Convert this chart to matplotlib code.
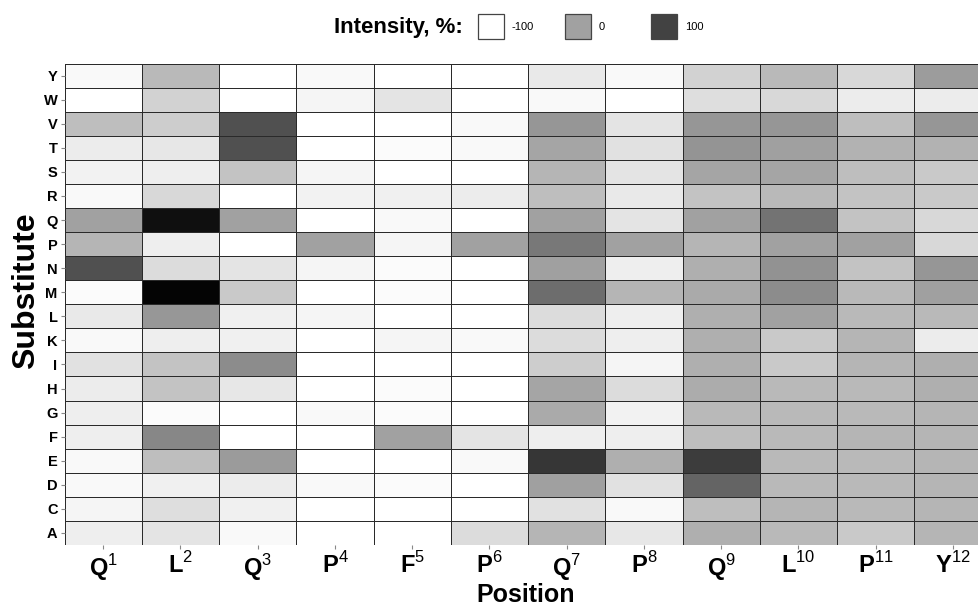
import numpy as np
import matplotlib
matplotlib.use('Agg')
import matplotlib.pyplot as plt
from matplotlib.colors import LinearSegmentedColormap, Normalize
from matplotlib.patches import Rectangle

plt.rcParams['font.family'] = 'Liberation Sans'
plt.rcParams['mathtext.fontset'] = 'custom'
plt.rcParams['mathtext.rm'] = 'Liberation Sans'
plt.rcParams['mathtext.bf'] = 'Liberation Sans:bold'

# peptide positions (x) and substitutes (y, top to bottom)
residues = ['Q', 'L', 'Q', 'P', 'F', 'P', 'Q', 'P', 'Q', 'L', 'P', 'Y']
position_nums = [1, 2, 3, 4, 5, 6, 7, 8, 9, 10, 11, 12]
substitutes = ['Y', 'W', 'V', 'T', 'S', 'R', 'Q', 'P', 'N', 'M',
               'L', 'K', 'I', 'H', 'G', 'F', 'E', 'D', 'C', 'A']

# intensity, % (rows = substitutes, columns = positions)
intensity = [
    [-93, -26, -100, -93, -100, -100, -76, -93, -52, -26, -58, 5],      # Y
    [-100, -52, -100, -89, -71, -100, -93, -100, -65, -58, -79, -79],   # W
    [-31, -47, 85, -100, -100, -93, 11, -71, 11, 11, -31, 11],          # V
    [-79, -74, 85, -100, -95, -93, -5, -68, 13, 1, -18, -18],           # T
    [-86, -82, -36, -89, -100, -100, -21, -71, -5, -5, -31, -42],       # S
    [-93, -58, -100, -86, -84, -79, -31, -76, -36, -26, -36, -42],      # R
    [0, 154, 0, -100, -93, -100, 0, -71, 0, 48, -36, -58],              # Q
    [-21, -82, -100, 0, -89, 0, 43, 0, -21, 0, 0, -58],                 # P
    [85, -63, -71, -89, -95, -100, 1, -82, -15, 16, -36, 11],           # N
    [-95, 165, -42, -100, -95, -100, 54, -21, -10, 22, -26, 1],         # M
    [-76, 10, -84, -89, -100, -100, -63, -82, -15, 0, -26, -26],        # L
    [-93, -82, -84, -100, -89, -93, -63, -82, -15, -42, -21, -79],      # K
    [-68, -36, 22, -100, -100, -100, -47, -89, -15, -42, -21, -15],     # I
    [-79, -36, -74, -100, -95, -100, -5, -63, -12, -26, -26, -15],      # H
    [-82, -95, -100, -93, -95, -100, -10, -86, -26, -26, -26, -21],     # G
    [-82, 27, -100, -100, 0, -71, -82, -82, -31, -26, -21, -21],        # F
    [-93, -31, 6, -100, -100, -93, 112, -15, 106, -26, -26, -21],       # E
    [-93, -84, -79, -93, -95, -100, 1, -68, 64, -26, -26, -21],         # D
    [-89, -65, -84, -100, -100, -100, -68, -93, -31, -21, -26, -21],    # C
    [-82, -71, -93, -100, -100, -63, -21, -74, -15, -26, -42, -21],     # A
]

legend_values = [-100, 0, 100]

cmap = LinearSegmentedColormap.from_list('wb', ['white', 'black'])
norm = Normalize(vmin=-100, vmax=170)

fig = plt.figure(figsize=(9.79, 6.12), dpi=100)
ax = fig.add_axes([0.0659, 0.1095, 0.947, 0.7866])

data = np.array(intensity)
ax.pcolormesh(np.arange(len(residues) + 1), np.arange(len(substitutes) + 1), data,
              cmap=cmap, norm=norm, edgecolors='#2a2a2a', linewidth=0.6)
ax.set_xlim(0, len(residues))
ax.set_ylim(len(substitutes), 0)

for s in ax.spines.values():
    s.set_visible(False)

ax.set_yticks(np.arange(len(substitutes)) + 0.5)
ax.set_yticklabels(substitutes, fontsize=10.5, fontweight='bold')
ax.set_xticks(np.arange(len(residues)) + 0.5)
ax.set_xticklabels([r'$\mathbf{%s}^{%d}$' % (r, n) for r, n in zip(residues, position_nums)],
                   fontsize=17)
ax.tick_params(axis='both', length=3, color='#888888', width=0.8)
ax.tick_params(axis='x', pad=2)
ax.tick_params(axis='y', pad=2)

fig.text(26 / 979, 0.525, 'Substitute', rotation=90, ha='center', va='center',
         fontsize=23, fontweight='bold')
fig.text(526 / 979, 0.027, 'Position', ha='center', va='center',
         fontsize=18, fontweight='bold')

# legend at the top
fig.text(398 / 979, 1 - 27 / 612, 'Intensity, %:', ha='center', va='center',
         fontsize=16, fontweight='bold')
box_x = [478, 565, 651]
for bx, v in zip(box_x, legend_values):
    fig.patches.append(Rectangle((bx / 979, 1 - 39 / 612), 26 / 979, 25 / 612,
                                 transform=fig.transFigure, facecolor=cmap(norm(v)),
                                 edgecolor='#444444', linewidth=0.9))
    fig.text((bx + 34) / 979, 1 - 27 / 612, str(v), ha='left', va='center', fontsize=8)

fig.savefig('out.png', dpi=100)
